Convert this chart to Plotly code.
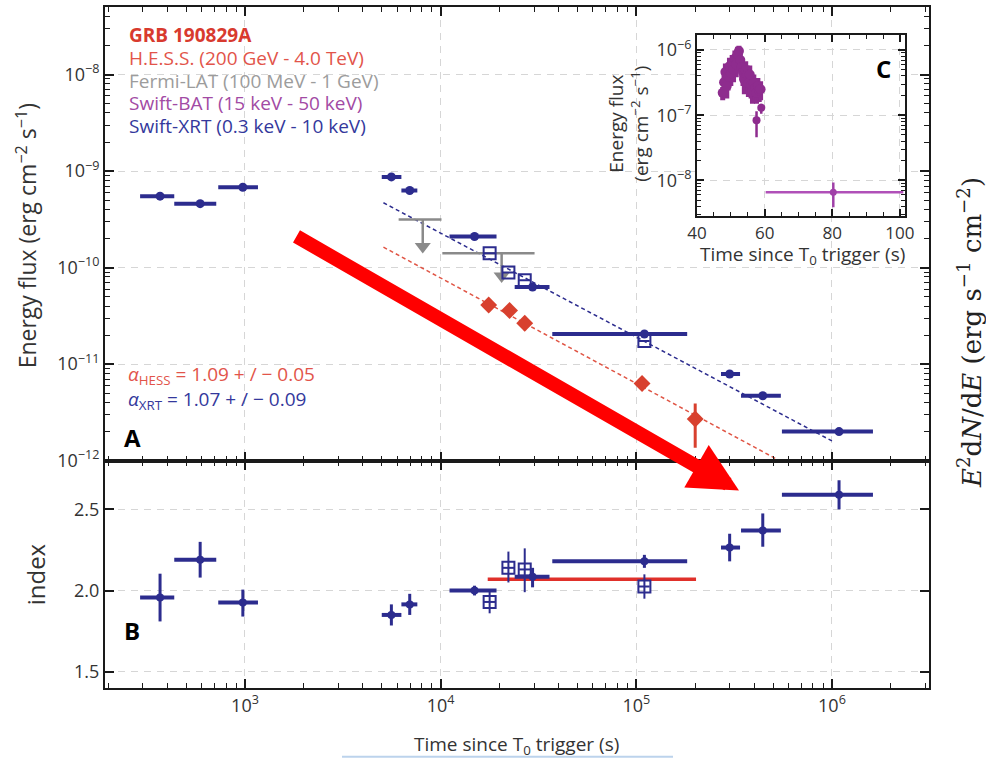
import plotly.graph_objects as go

# ---------------- data ----------------
# Panel A: Swift-XRT energy flux (filled circles)
xrt_t    = [368, 590, 975, 5600, 6950, 14900, 29500, 110000, 300000, 443000, 1.087e6]
xrt_t_lo = [291, 435, 730, 5000, 6300, 11100, 23900, 37200, 271000, 343000, 555000]
xrt_t_hi = [435, 713, 1165, 6300, 7600, 19300, 36000, 182000, 339000, 548000, 1.62e6]
xrt_flux = [5.5e-10, 4.6e-10, 6.8e-10, 8.7e-10, 6.3e-10, 2.1e-10, 6.3e-11, 2.05e-11, 7.9e-12, 4.7e-12, 2.0e-12]
xrt_idx    = [1.957, 2.19, 1.927, 1.85, 1.915, 2.0, 2.085, 2.18, 2.265, 2.37, 2.59]
xrt_idx_lo = [1.81, 2.08, 1.84, 1.785, 1.85, 1.97, 2.02, 2.14, 2.18, 2.27, 2.50]
xrt_idx_hi = [2.104, 2.30, 2.006, 1.915, 1.98, 2.03, 2.14, 2.22, 2.35, 2.475, 2.68]

# Swift-XRT open squares
sq_t    = [17800, 22200, 26900, 110000]
sq_t_lo = [16600, 20800, 25200, 103000]
sq_t_hi = [19000, 23700, 28700, 117000]
sq_flux = [1.41e-10, 8.9e-11, 7.4e-11, 1.74e-11]
sq_idx    = [1.93, 2.14, 2.13, 2.025]
sq_idx_lo = [1.86, 2.05, 1.99, 1.95]
sq_idx_hi = [2.00, 2.24, 2.26, 2.10]

# H.E.S.S.
hess_t    = [17600, 22500, 26900, 107000, 200000]
hess_flux = [4.1e-11, 3.6e-11, 2.65e-11, 6.3e-12, 2.7e-12]
hess_lo   = [3.5e-11, 3.1e-11, 2.25e-11, 5.4e-12, 1.36e-12]
hess_hi   = [4.7e-11, 4.2e-11, 3.1e-11, 7.3e-12, 3.9e-12]
hess_idx_t = [17400, 202000]
hess_idx   = [2.07, 2.07]

# Fermi-LAT upper limits
lat_t    = [8100, 20500]
lat_t_lo = [6100, 10200]
lat_t_hi = [10100, 30200]
lat_ul   = [3.16e-10, 1.41e-10]
lat_tip  = [1.65e-10, 8.2e-11]

# power-law fits (end points)
fit_xrt_t  = [5100, 1.0e6]
fit_xrt_f  = [4.7e-10, 1.6e-12]
fit_hess_t = [5100, 6.0e5]
fit_hess_f = [1.63e-10, 8.9e-13]

# Inset C: Swift-BAT
bat_t = [47.6, 48.0, 48.4, 48.8, 49.2, 49.6, 50.0, 50.4, 50.8, 51.2, 51.6, 52.0, 52.4, 52.8,
         53.2, 53.6, 54.0, 54.4, 54.8, 55.2, 55.6, 56.0, 56.4, 56.8, 57.2, 57.6, 58.0, 58.4, 58.8]
bat_f = [2.2e-7, 3.2e-7, 4.6e-7, 2.8e-7, 3.9e-7, 5.6e-7, 4.4e-7, 6.2e-7, 5.0e-7, 7.4e-7, 6.0e-7,
         8.6e-7, 9.6e-7, 7.0e-7, 5.4e-7, 4.6e-7, 3.5e-7, 4.9e-7, 4.2e-7, 3.1e-7, 4.2e-7, 2.9e-7,
         2.3e-7, 3.1e-7, 2.6e-7, 2.2e-7, 2.8e-7, 2.4e-7, 2.5e-7]
bat_ferr = [0.5e-7, 1.2e-7, 1.6e-7, 1.0e-7, 1.5e-7, 2.0e-7, 1.6e-7, 2.2e-7, 1.8e-7, 2.4e-7, 2.2e-7,
            2.6e-7, 2.0e-7, 2.4e-7, 2.0e-7, 1.8e-7, 1.4e-7, 1.8e-7, 1.6e-7, 1.2e-7, 1.6e-7, 1.1e-7,
            0.8e-7, 1.1e-7, 0.9e-7, 0.7e-7, 0.9e-7, 0.8e-7, 0.8e-7]
bat2_t = [57.6, 59.0]
bat2_f = [8.4e-8, 1.3e-7]
bat2_lo = [4.6e-8, 1.05e-7]
bat2_hi = [1.15e-7, 1.5e-7]
bat_late_t = [80.3]
bat_late_f = [6.6e-9]
bat_late_tlo = [60.3]
bat_late_thi = [101.0]
bat_late_lo = [3.9e-9]
bat_late_hi = [9.3e-9]

# ---------------- styling ----------------
NAVY = "#2c2c8e"
RED = "#d8402e"
GRAY = "#8a8a8a"
PURPLE = "#8e2c8e"
FONT = "Open Sans"
TICKC = "#333333"
TF = 18  # tick font size

# plot area geometry (pixels)
L, R, T, B = 105, 929, 5, 688
W, H = R - L, B - T


def px(x, y):
    return (x - L) / W, (B - y) / H


def minus(v, lo):
    return [a - b for a, b in zip(v, lo)]


def plus(v, hi):
    return [b - a for a, b in zip(v, hi)]


fig = go.Figure()

# ---- Panel A ----
fig.add_trace(go.Scatter(x=fit_xrt_t, y=fit_xrt_f, mode="lines", xaxis="x", yaxis="y",
                         line=dict(color=NAVY, width=1.5, dash="4px,3px"), showlegend=False))
fig.add_trace(go.Scatter(x=fit_hess_t, y=fit_hess_f, mode="lines", xaxis="x", yaxis="y",
                         line=dict(color="#e05545", width=1.5, dash="4px,3px"), showlegend=False))

fig.add_trace(go.Scatter(x=lat_t, y=lat_ul, mode="markers", xaxis="x", yaxis="y",
                         marker=dict(size=1, color=GRAY, opacity=0),
                         error_x=dict(type="data", symmetric=False, array=plus(lat_t, lat_t_hi),
                                      arrayminus=minus(lat_t, lat_t_lo), color=GRAY, thickness=2.5, width=0),
                         error_y=dict(type="data", symmetric=False, array=[0, 0],
                                      arrayminus=minus(lat_ul, lat_tip), color=GRAY, thickness=2.5, width=0),
                         showlegend=False))
fig.add_trace(go.Scatter(x=lat_t, y=lat_tip, mode="markers", xaxis="x", yaxis="y",
                         marker=dict(symbol="triangle-down", size=14, color=GRAY), showlegend=False))

fig.add_trace(go.Scatter(x=xrt_t, y=xrt_flux, mode="markers", xaxis="x", yaxis="y",
                         marker=dict(symbol="circle", size=9, color=NAVY),
                         error_x=dict(type="data", symmetric=False, array=plus(xrt_t, xrt_t_hi),
                                      arrayminus=minus(xrt_t, xrt_t_lo), color=NAVY, thickness=4, width=0),
                         showlegend=False))
fig.add_trace(go.Scatter(x=sq_t, y=sq_flux, mode="markers", xaxis="x", yaxis="y",
                         marker=dict(symbol="square-open", size=12, color=NAVY, line=dict(width=2, color=NAVY)),
                         error_x=dict(type="data", symmetric=False, array=plus(sq_t, sq_t_hi),
                                      arrayminus=minus(sq_t, sq_t_lo), color=NAVY, thickness=2, width=0),
                         showlegend=False))
fig.add_trace(go.Scatter(x=hess_t, y=hess_flux, mode="markers", xaxis="x", yaxis="y",
                         marker=dict(symbol="diamond", size=13, color=RED),
                         error_y=dict(type="data", symmetric=False, array=plus(hess_flux, hess_hi),
                                      arrayminus=minus(hess_flux, hess_lo), color=RED, thickness=3, width=0),
                         showlegend=False))

# ---- Panel B ----
fig.add_trace(go.Scatter(x=hess_idx_t, y=hess_idx, mode="lines", xaxis="x2", yaxis="y2",
                         line=dict(color="#e0302a", width=3.5), showlegend=False))
fig.add_trace(go.Scatter(x=xrt_t, y=xrt_idx, mode="markers", xaxis="x2", yaxis="y2",
                         marker=dict(symbol="circle", size=8, color=NAVY),
                         error_x=dict(type="data", symmetric=False, array=plus(xrt_t, xrt_t_hi),
                                      arrayminus=minus(xrt_t, xrt_t_lo), color=NAVY, thickness=4, width=0),
                         error_y=dict(type="data", symmetric=False, array=plus(xrt_idx, xrt_idx_hi),
                                      arrayminus=minus(xrt_idx, xrt_idx_lo), color=NAVY, thickness=3, width=0),
                         showlegend=False))
fig.add_trace(go.Scatter(x=sq_t, y=sq_idx, mode="markers", xaxis="x2", yaxis="y2",
                         marker=dict(symbol="square-open", size=12, color=NAVY, line=dict(width=2, color=NAVY)),
                         error_x=dict(type="data", symmetric=False, array=plus(sq_t, sq_t_hi),
                                      arrayminus=minus(sq_t, sq_t_lo), color=NAVY, thickness=2, width=0),
                         error_y=dict(type="data", symmetric=False, array=plus(sq_idx, sq_idx_hi),
                                      arrayminus=minus(sq_idx, sq_idx_lo), color=NAVY, thickness=2, width=0),
                         showlegend=False))

# ---- Inset C ----
fig.add_trace(go.Scatter(x=bat_t, y=bat_f, mode="markers", xaxis="x3", yaxis="y3",
                         marker=dict(symbol="circle", size=10, color=PURPLE),
                         error_x=dict(type="constant", value=0.4, color=PURPLE, thickness=4, width=0),
                         error_y=dict(type="data", array=bat_ferr, color=PURPLE, thickness=5, width=0),
                         showlegend=False))
fig.add_trace(go.Scatter(x=bat2_t, y=bat2_f, mode="markers", xaxis="x3", yaxis="y3",
                         marker=dict(symbol="circle", size=8, color=PURPLE),
                         error_y=dict(type="data", symmetric=False, array=plus(bat2_f, bat2_hi),
                                      arrayminus=minus(bat2_f, bat2_lo), color=PURPLE, thickness=2.5, width=0),
                         showlegend=False))
fig.add_trace(go.Scatter(x=bat_late_t, y=bat_late_f, mode="markers", xaxis="x3", yaxis="y3",
                         marker=dict(symbol="circle", size=7, color="#a040a8"),
                         error_x=dict(type="data", symmetric=False, array=plus(bat_late_t, bat_late_thi),
                                      arrayminus=minus(bat_late_t, bat_late_tlo), color="#b050b8",
                                      thickness=2.5, width=0),
                         error_y=dict(type="data", symmetric=False, array=plus(bat_late_f, bat_late_hi),
                                      arrayminus=minus(bat_late_f, bat_late_lo), color="#a040a8",
                                      thickness=2.5, width=0),
                         showlegend=False))

# ---------------- axes ----------------
x_minor = [k * 10 ** e for e in range(2, 7) for k in range(2, 10)]
yA_minor = [k * 10.0 ** e for e in range(-12, -7) for k in range(2, 10)]
yC_minor = [k * 10.0 ** e for e in range(-9, -5) for k in range(2, 10)]

frame = dict(showline=True, linecolor="#1a1a1a", linewidth=2, mirror="allticks",
             ticks="inside", ticklen=9, tickwidth=1.5, tickcolor="#1a1a1a",
             showgrid=True, gridcolor="#d6d6d6", gridwidth=1, griddash="7px,6px",
             zeroline=False, tickfont=dict(family=FONT, size=TF, color=TICKC))

xdec = [1e3, 1e4, 1e5, 1e6]
xdec_txt = ["10<sup>3</sup>", "10<sup>4</sup>", "10<sup>5</sup>", "10<sup>6</sup>"]
minor_x = dict(tickmode="array", tickvals=x_minor, ticks="inside", ticklen=5, tickwidth=1.2,
               tickcolor="#1a1a1a", showgrid=False)

yA_vals = [1e-12, 1e-11, 1e-10, 1e-9, 1e-8]
yA_txt = ["10<sup>−12</sup>", "10<sup>−11</sup>", "10<sup>−10</sup>", "10<sup>−9</sup>", "10<sup>−8</sup>"]
yC_vals = [1e-8, 1e-7, 1e-6]
yC_txt = ["10<sup>−8</sup>", "10<sup>−7</sup>", "10<sup>−6</sup>"]

fig.update_layout(
    width=986, height=759,
    margin=dict(l=L, r=986 - R, t=T, b=759 - B),
    paper_bgcolor="white", plot_bgcolor="white",
    showlegend=False,
    xaxis=dict(frame, type="log", range=[2.2845, 6.496], domain=[0, 1], anchor="y",
               tickmode="array", tickvals=xdec, ticktext=xdec_txt, showticklabels=False,
               minor=minor_x),
    yaxis=dict(frame, type="log", range=[-12, -7.3], domain=[1 - 455 / H, 1], anchor="x",
               tickmode="array", tickvals=yA_vals, ticktext=yA_txt,
               minor=dict(tickmode="array", tickvals=yA_minor, ticks="inside", ticklen=5,
                          tickwidth=1.2, tickcolor="#1a1a1a", showgrid=False)),
    xaxis2=dict(frame, type="log", range=[2.2845, 6.496], domain=[0, 1], anchor="y2",
                tickmode="array", tickvals=xdec, ticktext=xdec_txt, minor=minor_x, matches="x"),
    yaxis2=dict(frame, range=[1.40, 2.80], domain=[0, 1 - 455 / H], anchor="x2",
                tickmode="array", tickvals=[1.5, 2.0, 2.5], ticktext=["1.5", "2.0", "2.5"]),
    xaxis3=dict(frame, range=[40, 101.5], domain=[(697 - L) / W, (905 - L) / W], anchor="y3",
                tickmode="array", tickvals=[40, 60, 80, 100], ticklen=7,
                tickfont=dict(family=FONT, size=17, color=TICKC),
                minor=dict(tickmode="array", tickvals=[45, 50, 55, 65, 70, 75, 85, 90, 95],
                           ticks="inside", ticklen=4, tickwidth=1.2, tickcolor="#1a1a1a", showgrid=False)),
    yaxis3=dict(frame, type="log", range=[-8.55, -5.77],
                domain=[(B - 215) / H, (B - 33) / H], anchor="x3",
                tickmode="array", tickvals=yC_vals, ticktext=yC_txt, ticklen=7,
                minor=dict(tickmode="array", tickvals=yC_minor, ticks="inside", ticklen=4,
                           tickwidth=1.2, tickcolor="#1a1a1a", showgrid=False)),
)

# ---------------- annotations ----------------
ann = []


def text(x, y, s, size=17, color="black", xanchor="left", angle=0, family=FONT):
    ax_, ay_ = px(x, y)
    ann.append(dict(x=ax_, y=ay_, xref="paper", yref="paper", text=s, showarrow=False,
                    xanchor=xanchor, yanchor="middle", textangle=angle,
                    font=dict(family=family, size=size, color=color)))


text(127, 33, "<b>GRB 190829A</b>", 19, "#d83a2e")
text(127, 56, "H.E.S.S. (200 GeV - 4.0 TeV)", 19, "#e2544a")
text(127, 79, "Fermi-LAT (100 MeV - 1 GeV)", 19, "#9c9c9c")
text(127, 101, "Swift-BAT (15 keV - 50 keV)", 19, "#a24aa4")
text(127, 124, "Swift-XRT (0.3 keV - 10 keV)", 19, "#34389c")
text(126, 374, "<i>α</i><sub>HESS</sub> = 1.09 + / − 0.05", 19, "#e2544a")
text(126, 399, "<i>α</i><sub>XRT</sub> = 1.07 + / − 0.09", 19, "#34389c")
text(122, 437, "<b>A</b>", 24)
text(122, 630, "<b>B</b>", 24)
text(883, 67, "<b>C</b>", 24, xanchor="center")
text(27, 235, "Energy flux (erg cm<sup>−2</sup> s<sup>−1</sup>)", 23, "#333333", "center", -90)
text(35, 574, "index", 24, "#333333", "center", -90)
text(516, 745, "Time since T<sub>0</sub> trigger (s)", 19, "#333333", "center")
text(629, 122, "Energy flux<br>(erg cm<sup>−2</sup> s<sup>−1</sup>)", 19, "#333333", "center", -90)
text(802, 254, "Time since T<sub>0</sub> trigger (s)", 19, "#333333", "center")
text(970, 331, "<i>E</i><sup>2</sup>d<i>N</i>/d<i>E</i> (erg s<sup>−1</sup> cm<sup>−2</sup>)", 26,
     "#222222", "center", -90, "DejaVu Serif")

# big red arrow
tip_x, tip_y = px(739, 490)
ann.append(dict(x=tip_x, y=tip_y, xref="paper", yref="paper", ax=295 - 739, ay=235 - 490,
                axref="pixel", ayref="pixel", showarrow=True, arrowhead=2, arrowsize=0.7,
                arrowwidth=14, arrowcolor="#ff0000", text=""))

fig.update_layout(annotations=ann)

# faint line below the x-axis title
x0, y0 = px(342, 757)
x1, _ = px(673, 757)
fig.add_shape(type="line", xref="paper", yref="paper", x0=x0, x1=x1, y0=y0, y1=y0,
              line=dict(color="#bcd3ec", width=2))

fig.write_html("out.html", config={"displayModeBar": False},
               post_script="document.body.style.margin='0';")
